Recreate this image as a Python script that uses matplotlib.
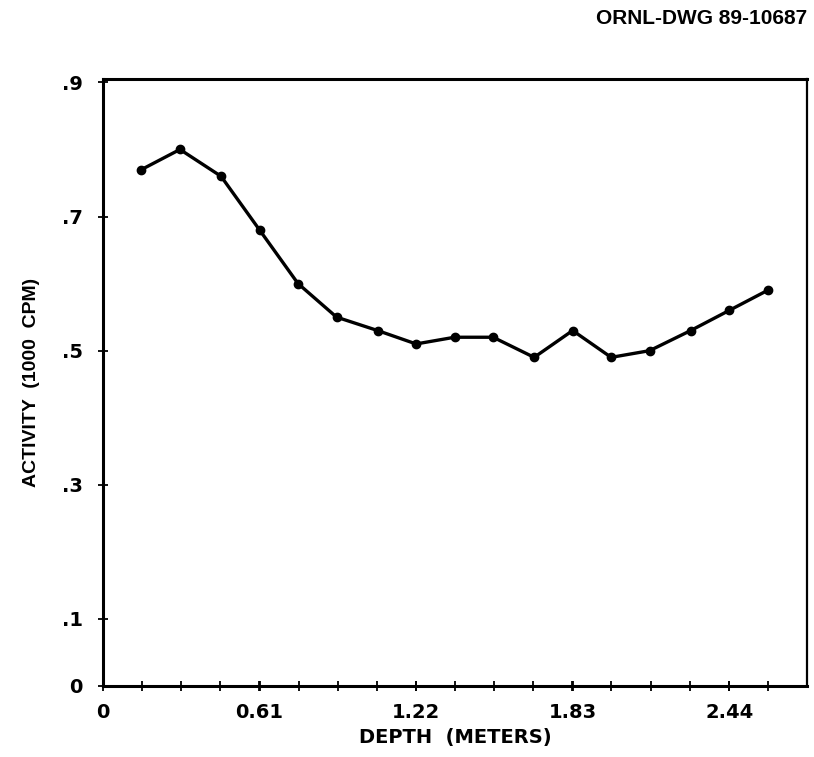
import numpy as np
from matplotlib import pyplot as plt
from matplotlib.ticker import FixedLocator, MultipleLocator

# Depth (m) of each sample, half-foot spacing
depth = [0.15, 0.30, 0.46, 0.61, 0.76, 0.91, 1.07, 1.22, 1.37,
         1.52, 1.68, 1.83, 1.98, 2.13, 2.29, 2.44, 2.59]
# Activity, thousands of counts per minute
activity = [0.77, 0.80, 0.76, 0.68, 0.60, 0.55, 0.53, 0.51, 0.52,
            0.52, 0.49, 0.53, 0.49, 0.50, 0.53, 0.56, 0.59]

xticks = [0, 0.61, 1.22, 1.83, 2.44]
xticklabels = ['0', '0.61', '1.22', '1.83', '2.44']
yticks = [0, 0.1, 0.3, 0.5, 0.7, 0.9]
yticklabels = ['0', '.1', '.3', '.5', '.7', '.9']

fig = plt.figure(figsize=(8.14, 7.57), dpi=100)
ax = fig.add_axes([0.1265, 0.0938, 0.8649, 0.8018])

ax.plot(depth, activity, color='black', lw=2.4, marker='o', ms=6,
        solid_joinstyle='round')

ax.set_xlim(0, 2.743)
ax.set_ylim(0, 0.905)

ax.xaxis.set_major_locator(FixedLocator(xticks))
ax.set_xticklabels(xticklabels)
ax.xaxis.set_minor_locator(MultipleLocator(0.1524))
ax.yaxis.set_major_locator(FixedLocator(yticks))
ax.set_yticklabels(yticklabels)

ax.tick_params(which='both', direction='inout', length=7, width=1.3,
               labelsize=14, pad=9)
ax.tick_params(axis='y', pad=11)
for lab in ax.get_xticklabels() + ax.get_yticklabels():
    lab.set_fontweight('semibold')

for side in ['left', 'bottom', 'top']:
    ax.spines[side].set_linewidth(2.2)
ax.spines['right'].set_linewidth(1.6)

ax.set_xlabel('DEPTH  (METERS)', fontsize=14, fontweight='semibold', labelpad=4)
ax.set_ylabel('ACTIVITY  (1000  CPM)', fontsize=14, fontweight='bold',
              family='Liberation Sans', labelpad=16)

fig.text(0.991, 0.976, 'ORNL-DWG 89-10687', ha='right', va='center',
         fontsize=15, fontweight='bold', family='Liberation Sans')

plt.savefig('out.png', dpi=100)
